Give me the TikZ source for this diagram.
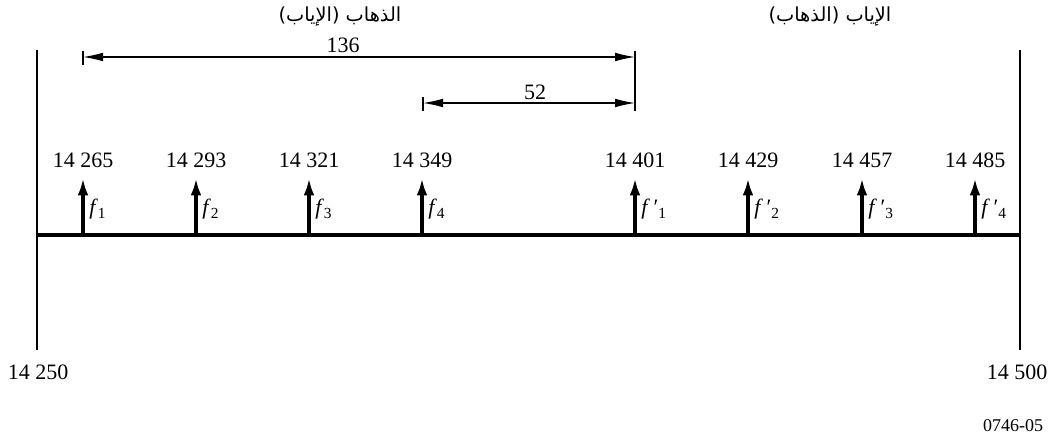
\documentclass[tikz,border=0pt]{standalone}
\usepackage{fontspec}
\setmainfont{Liberation Serif}
\newfontfamily\arabicfont[Script=Arabic]{DejaVu Sans}
\TeXXeTstate=1
\usetikzlibrary{arrows.meta}

\begin{document}
\begin{tikzpicture}[
  x=0.75pt,y=-0.75pt,
  font=\fontsize{16.5}{19}\selectfont,
  bandedge/.style={line width=0.9pt},
  axisline/.style={line width=3pt},
  carrier/.style={line width=2.6pt,-{Latex[length=13pt,width=8pt]}},
  span/.style={line width=0.9pt,{Latex[length=15pt,width=6.5pt]}-{Latex[length=15pt,width=6.5pt]}},
  spantick/.style={line width=0.9pt},
  freq/.style={inner sep=0pt},
  flabel/.style={inner sep=0pt,anchor=base west},
  title/.style={inner sep=0pt,font=\arabicfont\fontsize{14.5}{17}\selectfont},
]
  \useasboundingbox (0,0) rectangle (1054,441);

  % titles of the two halves
  \node[title] (goTitle) at (340,17) {\beginR الذهاب (الإياب)\endR};
  \node[title] (backTitle) at (830,17) {\beginR الإياب (الذهاب)\endR};

  % band edges and axis
  \coordinate (edgeLtop) at (37,50);
  \coordinate (edgeLbot) at (37,350);
  \coordinate (edgeRtop) at (1020,50);
  \coordinate (edgeRbot) at (1020,350);
  \draw[bandedge] (edgeLtop) -- (edgeLbot);
  \draw[bandedge] (edgeRtop) -- (edgeRbot);
  \coordinate (axisL) at (37,235);
  \coordinate (axisR) at (1020,235);
  \draw[axisline] (axisL) -- (axisR);

  % carriers
  \foreach \xpos/\freqval/\lab [count=\k] in {
      83/14 265/\textit{f}\textsubscript{1},
      196/14 293/\textit{f}\textsubscript{2},
      309/14 321/\textit{f}\textsubscript{3},
      422/14 349/\textit{f}\textsubscript{4},
      635/14 401/\textit{f}\,′\textsubscript{1},
      748/14 429/\textit{f}\,′\textsubscript{2},
      862/14 457/\textit{f}\,′\textsubscript{3},
      975/14 485/\textit{f}\,′\textsubscript{4}}{
    \coordinate (foot\k) at (\xpos,235);
    \coordinate (tip\k) at (\xpos,178);
    \draw[carrier] (foot\k) -- (tip\k);
    \node[freq] (freq\k) at (\xpos,160) {\freqval};
    \node[flabel] (f\k) at (\xpos+6,215) {\lab};
  }

  % spacings
  \coordinate (wideL) at (83,57);
  \coordinate (wideR) at (635,57);
  \coordinate (narrowL) at (423,103);
  \coordinate (narrowR) at (635,103);
  \draw[spantick] (83,51) -- (83,65);
  \draw[spantick] (423,97) -- (423,111);
  \draw[spantick] (635,51) -- (635,111);
  \draw[span] (wideL) -- (wideR);
  \draw[span] (narrowL) -- (narrowR);
  \node[freq] (wideVal) at (343,45) {136};
  \node[freq] (narrowVal) at (535,92) {52};

  % band limits
  \node[freq] (lowLimit) at (38,372) {14 250};
  \node[freq] (highLimit) at (1017,372) {14 500};
  \node[freq,font=\fontsize{13.5}{16}\selectfont] (figRef) at (1013,426) {0746-05};
\end{tikzpicture}
\end{document}
